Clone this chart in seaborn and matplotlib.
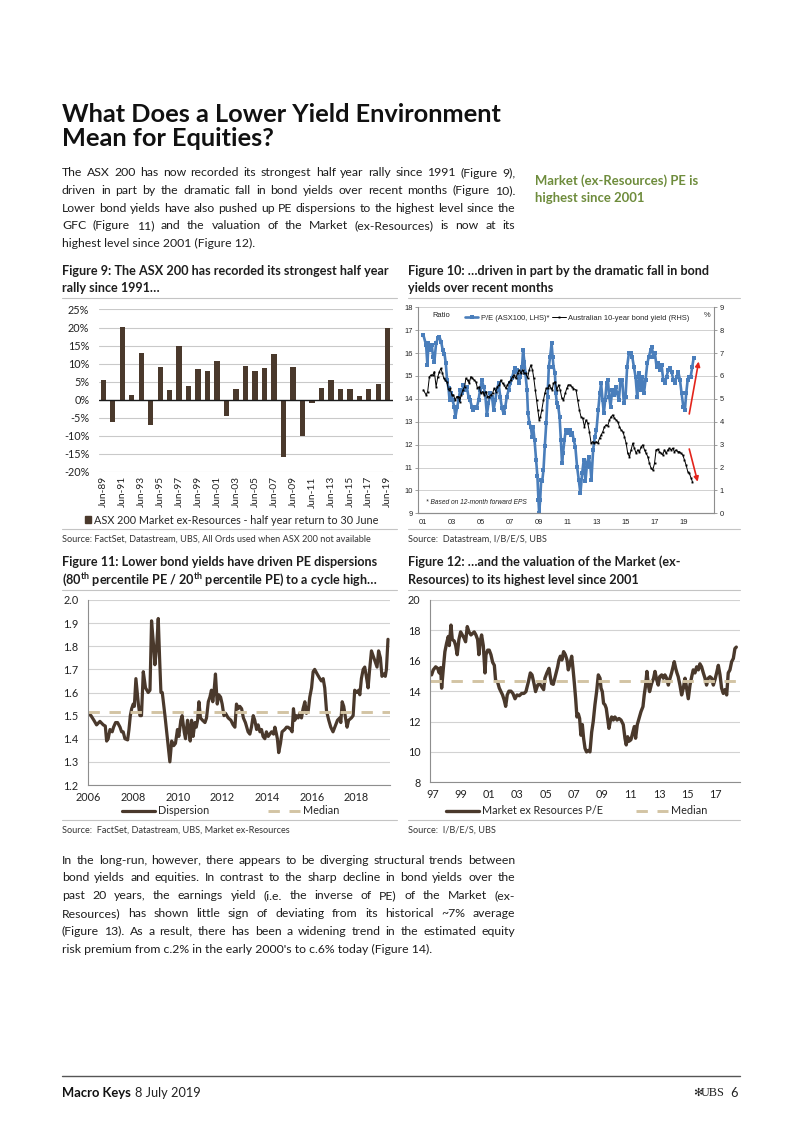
import numpy as np
import pandas as pd
import matplotlib
matplotlib.use("Agg")
import matplotlib.pyplot as plt
import seaborn as sns
from matplotlib import font_manager as fm
from matplotlib.lines import Line2D
from matplotlib.patches import Patch

# ------------------------------------------------------------------ data
fig9_labels = [f"Jun-{y % 100:02d}" for y in range(1989, 2020)]
fig9_returns = [5.6, -6.2, 20.2, 1.2, 13.0, -6.9, 9.0, 2.8, 14.8, 3.9, 8.6, 7.9,
                10.6, -4.5, 2.9, 9.3, 7.9, 8.8, 12.8, -15.8, 9.1, -10.0, -0.9,
                3.3, 5.4, 3.0, 3.1, 1.0, 3.1, 4.3, 20.0]

pe_years = [2001.02, 2001.21, 2001.30, 2001.37, 2001.48, 2001.60, 2001.69, 2001.78, 2001.90,
            2002.02, 2002.13, 2002.25, 2002.36, 2002.48, 2002.57, 2002.66, 2002.76, 2002.83,
            2002.92, 2003.04, 2003.15, 2003.24, 2003.36, 2003.45, 2003.56, 2003.68, 2003.79,
            2003.91, 2004.02, 2004.14, 2004.25, 2004.37, 2004.48, 2004.60, 2004.71, 2004.83,
            2004.94, 2005.06, 2005.18, 2005.29, 2005.41, 2005.52, 2005.64, 2005.76, 2005.87,
            2005.99, 2006.10, 2006.22, 2006.33, 2006.45, 2006.56, 2006.68, 2006.79, 2006.91,
            2007.03, 2007.14, 2007.26, 2007.37, 2007.49, 2007.61, 2007.72, 2007.84, 2007.91,
            2008.00, 2008.07, 2008.18, 2008.25, 2008.35, 2008.44, 2008.53, 2008.60, 2008.70,
            2008.81, 2008.90, 2008.97, 2009.02, 2009.09, 2009.16, 2009.23, 2009.32, 2009.41,
            2009.51, 2009.60, 2009.69, 2009.78, 2009.88, 2009.95, 2010.01, 2010.11, 2010.17,
            2010.24, 2010.34, 2010.43, 2010.52, 2010.60, 2010.67, 2010.77, 2010.86, 2010.95,
            2011.04, 2011.14, 2011.23, 2011.32, 2011.41, 2011.52, 2011.64, 2011.76, 2011.87,
            2011.99, 2012.10, 2012.22, 2012.33, 2012.45, 2012.56, 2012.63, 2012.75, 2012.87,
            2012.98, 2013.10, 2013.21, 2013.30, 2013.40, 2013.49, 2013.58, 2013.68, 2013.77,
            2013.86, 2013.95, 2014.07, 2014.18, 2014.30, 2014.41, 2014.53, 2014.64, 2014.76,
            2014.87, 2014.99, 2015.10, 2015.22, 2015.36, 2015.45, 2015.56, 2015.68, 2015.79,
            2015.86, 2015.95, 2016.05, 2016.14, 2016.26, 2016.37, 2016.49, 2016.60, 2016.72,
            2016.81, 2016.90, 2017.02, 2017.13, 2017.25, 2017.36, 2017.48, 2017.59, 2017.71,
            2017.82, 2017.94, 2018.06, 2018.17, 2018.29, 2018.40, 2018.52, 2018.63, 2018.75,
            2018.86, 2018.98, 2019.09, 2019.18, 2019.28, 2019.37, 2019.49, 2019.60, 2019.69]
pe_values = [16.79, 16.35, 15.48, 16.42, 16.13, 16.35, 15.84, 15.62, 16.42,
             16.64, 16.71, 16.49, 16.13, 15.98, 15.55, 14.82, 14.46, 13.95,
             14.24, 13.95, 13.66, 13.22, 13.66, 13.95, 14.39, 14.24, 14.61,
             14.39, 14.53, 14.10, 13.95, 13.66, 13.51, 13.66, 13.59, 13.95,
             14.39, 14.82, 14.53, 14.24, 13.30, 13.81, 14.24, 14.10, 13.51,
             13.95, 14.39, 14.68, 14.10, 13.59, 13.37, 13.66, 14.10, 14.39,
             14.68, 14.90, 15.19, 15.33, 15.26, 14.68, 14.97, 15.41, 16.13,
             15.62, 15.12, 14.39, 13.37, 12.93, 12.79, 12.35, 12.79, 12.21,
             11.33, 10.61, 9.59, 9.00, 9.59, 10.46, 10.39, 10.90, 11.92,
             12.93, 14.10, 15.41, 15.84, 16.42, 15.84, 15.41, 15.12, 14.24,
             13.81, 13.66, 13.22, 12.21, 11.19, 11.63, 12.21, 12.64, 12.50,
             12.57, 12.64, 12.42, 12.50, 12.20, 11.91, 11.03, 10.45, 9.87,
             10.74, 11.33, 10.39, 11.19, 11.48, 11.03, 10.45, 11.77, 12.35,
             12.64, 13.51, 14.24, 14.68, 13.95, 13.37, 13.95, 14.68, 14.82,
             14.10, 13.66, 14.39, 14.17, 14.53, 14.24, 13.95, 14.82, 14.82,
             13.81, 14.10, 15.41, 15.99, 15.99, 15.84, 15.41, 14.97, 14.10,
             14.68, 15.12, 14.39, 14.97, 14.24, 14.82, 15.55, 15.84, 16.13,
             16.28, 15.84, 15.99, 15.41, 15.55, 15.26, 15.48, 14.82, 14.68,
             14.97, 15.26, 15.33, 15.19, 14.82, 14.68, 14.97, 15.19, 14.82,
             14.24, 13.66, 13.51, 14.24, 14.82, 14.97, 14.97, 15.41, 15.77]

bond_years = [2001.02, 2001.21, 2001.32, 2001.44, 2001.55, 2001.67, 2001.78, 2001.90, 2002.02,
              2002.13, 2002.23, 2002.34, 2002.43, 2002.52, 2002.64, 2002.76, 2002.87, 2002.99,
              2003.10, 2003.22, 2003.33, 2003.45, 2003.52, 2003.64, 2003.75, 2003.87, 2003.96,
              2004.07, 2004.19, 2004.30, 2004.41, 2004.53, 2004.65, 2004.76, 2004.88, 2004.99,
              2005.11, 2005.22, 2005.34, 2005.45, 2005.57, 2005.68, 2005.80, 2005.91, 2006.03,
              2006.14, 2006.26, 2006.37, 2006.49, 2006.60, 2006.72, 2006.83, 2006.95, 2007.06,
              2007.18, 2007.29, 2007.41, 2007.53, 2007.64, 2007.76, 2007.87, 2007.99, 2008.10,
              2008.22, 2008.33, 2008.45, 2008.56, 2008.65, 2008.75, 2008.84, 2008.93, 2009.02,
              2009.11, 2009.20, 2009.32, 2009.41, 2009.51, 2009.62, 2009.73, 2009.83, 2009.92,
              2010.01, 2010.13, 2010.24, 2010.36, 2010.47, 2010.59, 2010.70, 2010.82, 2010.93,
              2011.04, 2011.16, 2011.27, 2011.39, 2011.57, 2011.68, 2011.80, 2011.91, 2012.03,
              2012.15, 2012.26, 2012.38, 2012.49, 2012.61, 2012.72, 2012.84, 2012.96, 2013.07,
              2013.19, 2013.30, 2013.42, 2013.53, 2013.65, 2013.76, 2013.88, 2013.99, 2014.11,
              2014.22, 2014.34, 2014.45, 2014.57, 2014.68, 2014.80, 2014.91, 2015.03, 2015.14,
              2015.26, 2015.37, 2015.49, 2015.60, 2015.72, 2015.83, 2015.95, 2016.07, 2016.18,
              2016.30, 2016.41, 2016.53, 2016.64, 2016.76, 2016.87, 2016.99, 2017.10, 2017.22,
              2017.33, 2017.45, 2017.56, 2017.68, 2017.79, 2017.91, 2018.02, 2018.14, 2018.25,
              2018.37, 2018.48, 2018.60, 2018.71, 2018.83, 2018.94, 2019.06, 2019.17, 2019.29,
              2019.40, 2019.52, 2019.61]
bond_values = [5.39, 5.17, 5.32, 5.97, 6.04, 6.04, 6.19, 5.53, 5.97,
               6.19, 6.33, 6.12, 5.90, 5.82, 5.75, 5.39, 5.46, 5.17,
               5.17, 4.95, 5.10, 5.10, 4.88, 5.17, 5.39, 5.53, 5.90,
               5.82, 5.68, 5.97, 5.90, 5.82, 5.75, 5.46, 5.53, 5.24,
               5.32, 5.17, 5.32, 5.10, 5.10, 5.17, 5.24, 5.46, 5.32,
               5.53, 5.61, 5.82, 5.68, 5.61, 5.46, 5.61, 5.75, 5.82,
               5.97, 6.04, 5.90, 6.12, 6.26, 6.12, 6.26, 6.12, 6.12,
               5.90, 6.26, 6.48, 6.26, 5.90, 5.39, 4.95, 4.51, 4.08,
               4.22, 4.51, 4.95, 5.24, 5.46, 5.46, 5.61, 5.46, 5.39,
               5.68, 5.75, 5.39, 5.61, 5.39, 5.03, 4.95, 5.24, 5.46,
               5.61, 5.61, 5.53, 5.45, 5.39, 4.95, 4.51, 4.22, 4.15,
               3.78, 4.08, 3.93, 3.57, 3.06, 3.13, 3.06, 3.13, 3.06,
               3.28, 3.42, 3.57, 3.78, 3.86, 3.82, 4.08, 4.22, 4.30,
               4.15, 4.08, 4.00, 3.78, 3.64, 3.57, 3.35, 3.06, 2.62,
               2.47, 2.77, 3.06, 2.84, 2.62, 2.77, 2.69, 2.91, 2.99,
               2.77, 2.62, 2.47, 2.18, 1.96, 1.89, 2.18, 2.77, 2.80,
               2.69, 2.62, 2.55, 2.77, 2.62, 2.77, 2.84, 2.77, 2.84,
               2.69, 2.77, 2.69, 2.69, 2.62, 2.55, 2.33, 2.11, 1.82,
               1.74, 1.53, 1.38]

pe_arrow = [(2019.39, 13.34), (2020.04, 15.63)]      # LHS units
yield_arrow = [(2019.39, 2.81), (2019.97, 1.38)]     # RHS units

disp_years = [2006.00, 2006.12, 2006.25, 2006.37, 2006.52, 2006.67, 2006.76, 2006.82, 2006.89,
              2006.97, 2007.07, 2007.13, 2007.22, 2007.31, 2007.42, 2007.49, 2007.56, 2007.64,
              2007.76, 2007.82, 2007.88, 2007.94, 2008.01, 2008.06, 2008.13, 2008.24, 2008.31,
              2008.38, 2008.46, 2008.56, 2008.68, 2008.76, 2008.83, 2008.94, 2008.98, 2009.06,
              2009.13, 2009.19, 2009.25, 2009.31, 2009.43, 2009.52, 2009.58, 2009.65, 2009.73,
              2009.82, 2009.90, 2009.99, 2010.05, 2010.14, 2010.20, 2010.29, 2010.35, 2010.44,
              2010.50, 2010.56, 2010.62, 2010.69, 2010.77, 2010.83, 2010.89, 2010.95, 2011.02,
              2011.11, 2011.22, 2011.29, 2011.37, 2011.44, 2011.51, 2011.57, 2011.63, 2011.69,
              2011.77, 2011.84, 2011.92, 2011.99, 2012.07, 2012.14, 2012.26, 2012.38, 2012.48,
              2012.56, 2012.63, 2012.71, 2012.78, 2012.86, 2012.94, 2013.03, 2013.15, 2013.23,
              2013.30, 2013.38, 2013.45, 2013.53, 2013.60, 2013.68, 2013.75, 2013.82, 2013.90,
              2013.97, 2014.05, 2014.12, 2014.20, 2014.29, 2014.35, 2014.42, 2014.46, 2014.52,
              2014.60, 2014.67, 2014.79, 2014.87, 2014.94, 2015.06, 2015.12, 2015.18, 2015.24,
              2015.31, 2015.39, 2015.46, 2015.54, 2015.61, 2015.69, 2015.76, 2015.84, 2015.91,
              2015.99, 2016.06, 2016.13, 2016.24, 2016.36, 2016.43, 2016.51, 2016.58, 2016.66,
              2016.76, 2016.85, 2016.95, 2017.03, 2017.15, 2017.25, 2017.30, 2017.36, 2017.43,
              2017.51, 2017.58, 2017.65, 2017.77, 2017.85, 2017.92, 2018.03, 2018.10, 2018.15,
              2018.22, 2018.30, 2018.37, 2018.44, 2018.52, 2018.58, 2018.67, 2018.74, 2018.85,
              2018.92, 2018.99, 2019.07, 2019.14, 2019.22, 2019.29, 2019.34, 2019.41]
disp_values = [1.51, 1.50, 1.48, 1.46, 1.475, 1.46, 1.455, 1.39, 1.40,
               1.44, 1.43, 1.45, 1.47, 1.47, 1.45, 1.43, 1.43, 1.40,
               1.395, 1.44, 1.50, 1.53, 1.55, 1.54, 1.66, 1.55, 1.50,
               1.50, 1.69, 1.62, 1.60, 1.61, 1.91, 1.78, 1.72, 1.80,
               1.92, 1.75, 1.60, 1.60, 1.50, 1.42, 1.37, 1.30, 1.39,
               1.37, 1.38, 1.44, 1.41, 1.48, 1.50, 1.43, 1.40, 1.48,
               1.44, 1.39, 1.48, 1.41, 1.47, 1.45, 1.48, 1.56, 1.49,
               1.48, 1.47, 1.49, 1.56, 1.58, 1.61, 1.56, 1.61, 1.68,
               1.55, 1.59, 1.58, 1.55, 1.50, 1.51, 1.49, 1.48, 1.46,
               1.45, 1.55, 1.53, 1.54, 1.53, 1.49, 1.47, 1.43, 1.42,
               1.45, 1.50, 1.48, 1.44, 1.46, 1.43, 1.44, 1.41, 1.40,
               1.43, 1.41, 1.42, 1.43, 1.42, 1.45, 1.42, 1.40, 1.34,
               1.38, 1.43, 1.44, 1.45, 1.45, 1.44, 1.43, 1.53, 1.48,
               1.50, 1.49, 1.51, 1.49, 1.53, 1.56, 1.51, 1.52, 1.58,
               1.62, 1.69, 1.70, 1.68, 1.66, 1.65, 1.66, 1.62, 1.52,
               1.48, 1.45, 1.43, 1.45, 1.48, 1.49, 1.47, 1.56, 1.54,
               1.49, 1.45, 1.48, 1.49, 1.50, 1.61, 1.60, 1.61, 1.59,
               1.66, 1.70, 1.71, 1.67, 1.62, 1.69, 1.78, 1.76, 1.73,
               1.71, 1.78, 1.75, 1.67, 1.68, 1.67, 1.70, 1.83]
disp_median = 1.515

mkt_years = [1996.95, 1997.07, 1997.24, 1997.38, 1997.49, 1997.59, 1997.66, 1997.78, 1997.89,
             1998.01, 1998.13, 1998.20, 1998.32, 1998.41, 1998.55, 1998.65, 1998.76, 1998.88,
             1999.00, 1999.12, 1999.24, 1999.35, 1999.47, 1999.59, 1999.73, 1999.85, 1999.96,
             2000.08, 2000.20, 2000.29, 2000.39, 2000.48, 2000.60, 2000.72, 2000.79, 2000.91,
             2001.02, 2001.14, 2001.26, 2001.38, 2001.47, 2001.61, 2001.73, 2001.85, 2001.96,
             2002.08, 2002.18, 2002.29, 2002.41, 2002.55, 2002.69, 2002.84, 2002.98, 2003.14,
             2003.31, 2003.47, 2003.61, 2003.78, 2003.92, 2004.04, 2004.18, 2004.29, 2004.44,
             2004.58, 2004.72, 2004.86, 2004.95, 2005.09, 2005.24, 2005.33, 2005.42, 2005.54,
             2005.71, 2005.85, 2005.94, 2006.04, 2006.15, 2006.27, 2006.39, 2006.51, 2006.60,
             2006.72, 2006.84, 2006.93, 2007.02, 2007.12, 2007.21, 2007.31, 2007.40, 2007.49,
             2007.59, 2007.68, 2007.78, 2007.89, 2008.01, 2008.13, 2008.25, 2008.36, 2008.48,
             2008.60, 2008.72, 2008.84, 2008.91, 2009.00, 2009.09, 2009.19, 2009.28, 2009.38,
             2009.47, 2009.56, 2009.66, 2009.78, 2009.89, 2010.04, 2010.18, 2010.32, 2010.48,
             2010.60, 2010.69, 2010.79, 2010.88, 2011.02, 2011.16, 2011.26, 2011.35, 2011.47,
             2011.59, 2011.73, 2011.87, 2011.96, 2012.06, 2012.15, 2012.25, 2012.34, 2012.48,
             2012.62, 2012.72, 2012.84, 2012.95, 2013.05, 2013.19, 2013.31, 2013.42, 2013.54,
             2013.66, 2013.78, 2013.89, 2013.99, 2014.08, 2014.18, 2014.27, 2014.36, 2014.48,
             2014.60, 2014.72, 2014.84, 2014.95, 2015.07, 2015.19, 2015.31, 2015.42, 2015.54,
             2015.66, 2015.78, 2015.89, 2016.01, 2016.13, 2016.25, 2016.36, 2016.48, 2016.60,
             2016.72, 2016.84, 2016.95, 2017.07, 2017.19, 2017.31, 2017.42, 2017.54, 2017.66,
             2017.78, 2017.89, 2018.01, 2018.13, 2018.25, 2018.36, 2018.46]
mkt_pe = [15.07, 15.4, 15.6, 15.5, 15.2, 15.55, 14.2, 15.5, 16.6,
          17.15, 17.6, 17.0, 18.35, 17.4, 17.3, 17.0, 16.4, 17.4,
          17.9, 17.7, 17.5, 17.25, 18.25, 17.9, 17.7, 17.8, 17.9,
          17.7, 17.4, 16.4, 17.3, 17.7, 17.0, 15.2, 16.4, 16.7,
          16.7, 16.4, 15.9, 15.7, 14.7, 14.6, 14.2, 13.97, 13.75,
          13.4, 13.0, 13.75, 14.0, 14.0, 13.85, 13.5, 13.75, 13.7,
          13.85, 13.85, 13.97, 14.6, 15.2, 15.07, 14.5, 13.97, 14.4,
          14.5, 14.3, 14.1, 14.85, 15.2, 15.5, 14.95, 14.5, 14.45,
          15.07, 15.6, 16.05, 16.3, 16.05, 16.6, 16.4, 16.05, 15.4,
          15.8, 16.3, 15.5, 14.6, 13.5, 12.3, 12.5, 12.2, 11.1,
          11.8, 10.9, 10.24, 10.0, 10.1, 10.0, 11.3, 12.0, 13.1,
          13.97, 15.07, 14.85, 14.2, 13.97, 13.2, 13.1, 12.87, 12.2,
          11.55, 12.0, 12.3, 12.1, 12.3, 12.1, 12.2, 12.1, 11.8,
          10.9, 10.46, 11.0, 10.7, 10.8, 11.3, 11.67, 10.9, 11.8,
          12.2, 12.65, 12.98, 13.75, 14.4, 15.3, 14.4, 13.97, 14.5,
          14.85, 15.3, 14.75, 14.4, 14.95, 15.07, 14.85, 15.07, 14.85,
          14.4, 14.85, 15.2, 15.6, 15.94, 15.5, 15.2, 14.95, 14.4,
          13.75, 14.2, 14.85, 14.2, 13.5, 14.4, 14.95, 15.4, 15.2,
          15.6, 15.4, 15.8, 15.6, 15.2, 14.85, 14.4, 14.85, 14.95,
          14.85, 14.4, 14.75, 15.2, 15.7, 15.07, 14.2, 13.85, 14.1,
          13.75, 15.2, 15.4, 15.94, 16.15, 16.8, 16.9]
mkt_median = 14.65

title_lines = ["What Does a Lower Yield Environment", "Mean for Equities?"]
para1 = ["The ASX 200 has now recorded its strongest half year rally since 1991 (Figure 9),",
         "driven in part by the dramatic fall in bond yields over recent months (Figure 10).",
         "Lower bond yields have also pushed up PE dispersions to the highest level since the",
         "GFC (Figure 11) and the valuation of the Market (ex-Resources) is now at its",
         "highest level since 2001 (Figure 12)."]
side_note = ["Market (ex-Resources) PE is", "highest since 2001"]
para2 = ["In the long-run, however, there appears to be diverging structural trends between",
         "bond yields and equities. In contrast to the sharp decline in bond yields over the",
         "past 20 years, the earnings yield (i.e. the inverse of PE) of the Market (ex-",
         "Resources) has shown little sign of deviating from its historical ~7% average",
         "(Figure 13). As a result, there has been a widening trend in the estimated equity",
         "risk premium from c.2% in the early 2000's to c.6% today (Figure 14)."]
fig_titles = {
    "f9": ["Figure 9: The ASX 200 has recorded its strongest half year", "rally since 1991\u2026"],
    "f10": ["Figure 10: \u2026driven in part by the dramatic fall in bond", "yields over recent months"],
    "f11": ["Figure 11: Lower bond yields have driven PE dispersions",
            "(80$^{\\mathbf{th}}$ percentile PE / 20$^{\\mathbf{th}}$ percentile PE) to a cycle high\u2026"],
    "f12": ["Figure 12: \u2026and the valuation of the Market (ex-", "Resources) to its highest level since 2001"],
}

# ------------------------------------------------------------------ style
sns.set_theme(style="white")


def has_font(name):
    try:
        fm.findfont(fm.FontProperties(family=name), fallback_to_default=False)
        return True
    except Exception:
        return False


NARROW = "Liberation Sans Narrow" if has_font("Liberation Sans Narrow") else "Lato"
HUMAN = "Lato"
ARIAL = "Liberation Sans"
plt.rcParams["font.family"] = [HUMAN, "DejaVu Sans"]
plt.rcParams["mathtext.fontset"] = "custom"
plt.rcParams["mathtext.rm"] = NARROW
plt.rcParams["mathtext.bf"] = f"{NARROW}:bold"

BROWN = "#4a392c"
TAN = "#d3c4a4"
BLUE = "#4a7ebb"
GRID = "#c9c9c9"
SPINE = "#8e8e8e"
TXT = "#1e1e1e"
GREEN = "#6e8c3c"

W, H = 802, 1133
fig = plt.figure(figsize=(W / 100, H / 100), dpi=100)
fig.patch.set_facecolor("white")
R = fig.canvas.get_renderer()


def fx(x):
    return x / W


def fy(y):
    return 1 - y / H


def put(x, y, s, size, family=NARROW, weight="normal", color=TXT, ha="left",
        va="center_baseline", style="normal"):
    return fig.text(fx(x), fy(y), s, fontsize=size, family=family, weight=weight,
                    color=color, ha=ha, va=va, style=style)


def width_of(s, size, family=NARROW, weight="normal"):
    t = fig.text(0, 0, s, fontsize=size, family=family, weight=weight)
    w = t.get_window_extent(renderer=R).width
    t.remove()
    return w


def fit(s, target, family=NARROW, weight="normal"):
    return 10.0 * target / width_of(s, 10.0, family, weight)


def justify(x0, x1, y, line, size, family=NARROW, color=TXT):
    words = line.split(" ")
    ts = [put(0, y, w, size, family, color=color) for w in words]
    ws = [t.get_window_extent(renderer=R).width for t in ts]
    gap = (x1 - x0 - sum(ws)) / (len(words) - 1)
    x = x0
    for t, w in zip(ts, ws):
        t.set_x(fx(x))
        x += w + gap


def hline(y, x0, x1, color="#c4c4c4", lw=0.8):
    fig.add_artist(Line2D([fx(x0), fx(x1)], [fy(y), fy(y)], color=color, lw=lw))


def ax_rect(l, t, r, b):
    return fig.add_axes([l / W, 1 - b / H, (r - l) / W, (b - t) / H])


# ------------------------------------------------------------------ page text
ts = fit(title_lines[0], 441, HUMAN, "bold")
put(62, 112, title_lines[0], ts, HUMAN, "bold", color="#111111")
put(62, 136, title_lines[1], ts, HUMAN, "bold", color="#111111")

bs = min(fit(l, 453) for l in para1[:-1] + para2[:-1]) * 0.995
for i, line in enumerate(para1):
    yy = 172 + i * 17.6
    if i < len(para1) - 1:
        justify(62, 515, yy, line, bs)
    else:
        put(62, yy, line, bs)
for i, line in enumerate(para2):
    yy = 859 + i * 17.8
    if i < len(para2) - 1:
        justify(62, 515, yy, line, bs)
    else:
        put(62, yy, line, bs)

gs = fit(side_note[0], 163, NARROW, "bold")
put(535, 180, side_note[0], gs, NARROW, "bold", color=GREEN)
put(535, 197, side_note[1], gs, NARROW, "bold", color=GREEN)

fs = min(fit(fig_titles["f9"][0], 328, NARROW, "bold"),
         fit(fig_titles["f10"][0], 312, NARROW, "bold"),
         fit(fig_titles["f11"][0], 328, NARROW, "bold"),
         fit(fig_titles["f11"][1], 330, NARROW, "bold"))
for key, x0, y0 in (("f9", 62, 270), ("f10", 408, 270), ("f11", 62, 561), ("f12", 408, 561)):
    put(x0, y0, fig_titles[key][0], fs, weight="bold")
    put(x0, y0 + 17.5, fig_titles[key][1], fs, weight="bold")

ss = fit("Source: FactSet, Datastream, UBS, All Ords used when ASX 200 not available", 308)
put(62, 538, "Source: FactSet, Datastream, UBS, All Ords used when ASX 200 not available", ss, color="#333333")
put(408, 538, "Source:  Datastream, I/B/E/S, UBS", ss, color="#333333")
put(62, 829, "Source:  FactSet, Datastream, UBS, Market ex-Resources", ss, color="#333333")
put(408, 829, "Source:  I/B/E/S, UBS", ss, color="#333333")

for y in (298, 529, 590, 820):
    hline(y, 62, 397)
    hline(y, 408, 740)

hline(1076, 62, 740, color="#555555", lw=1.0)
put(62, 1092, "Macro Keys", 9.4, NARROW, "bold", color="#111111")
put(135, 1092, "8 July 2019", 9.2, NARROW, color="#222222")
put(738, 1092, "6", 9.2, NARROW, color="#222222", ha="right")
put(725, 1092, "UBS", 8.8, "Liberation Serif", color="#222222", ha="right")
put(702, 1092, "\u273b", 8.0, "DejaVu Sans", color="#222222", ha="right")

# ------------------------------------------------------------------ Figure 9
ax9 = ax_rect(99, 309.5, 393, 472)
df9 = pd.DataFrame({"period": fig9_labels, "ret": fig9_returns})
sns.barplot(data=df9, x="period", y="ret", color=BROWN, saturation=1, width=0.56,
            linewidth=0, ax=ax9)
ax9.set_ylim(-20, 25)
ax9.set_xlim(-0.45, 30.55)
ax9.set_yticks(range(-20, 26, 5))
ax9.set_yticklabels([f"{v}%" for v in range(-20, 26, 5)])
ax9.set_xticks(range(len(fig9_labels)))
ax9.set_xticklabels([l if i % 2 == 0 else "" for i, l in enumerate(fig9_labels)], rotation=90)
ax9.yaxis.grid(True, color=GRID, lw=0.8)
ax9.set_axisbelow(True)
ax9.axhline(0, color="#1a1a1a", lw=1.0)
for s in ax9.spines.values():
    s.set_visible(False)
ax9.tick_params(axis="both", length=0, labelsize=7.8, colors="#222222")
ax9.tick_params(axis="x", labelsize=7.3, pad=3)
ax9.tick_params(axis="y", pad=7)
ax9.set(xlabel="", ylabel="")
ax9.legend(handles=[Patch(color=BROWN)],
           labels=["ASX 200 Market ex-Resources - half year return to 30 June"],
           loc="center", bbox_to_anchor=(fx(232), fy(520)), bbox_transform=fig.transFigure,
           frameon=False, fontsize=7.8, handlelength=0.55, handleheight=0.55,
           handletextpad=0.3, borderpad=0, borderaxespad=0)

# ------------------------------------------------------------------ Figure 10
ax10 = ax_rect(418, 307.3, 714, 513.3)
sns.lineplot(x=pe_years, y=pe_values, ax=ax10, color=BLUE, lw=1.9, marker="s",
             markersize=2.2, markeredgewidth=0, sort=False, estimator=None)
ax10r = ax10.twinx()
sns.lineplot(x=bond_years, y=bond_values, ax=ax10r, color="black", lw=0.7, marker="s",
             markersize=1.4, markeredgewidth=0, sort=False, estimator=None)
ax10.set_ylim(9, 18)
ax10r.set_ylim(0, 9)
ax10.set_xlim(2000.65, 2021.1)
ax10.set_yticks(range(9, 19))
ax10r.set_yticks(range(0, 10))
ax10.set_xticks(range(2001, 2020, 2))
ax10.set_xticklabels([f"{y % 100:02d}" for y in range(2001, 2020, 2)])
ax10.yaxis.grid(True, color=GRID, lw=0.6)
ax10.set_axisbelow(True)
for a in (ax10, ax10r):
    a.spines["top"].set_visible(False)
    for s in ("left", "right", "bottom"):
        a.spines[s].set_color(SPINE)
        a.spines[s].set_linewidth(0.8)
    a.tick_params(labelsize=5.4, length=2, width=0.6, color=SPINE, pad=2,
                  labelcolor="#222222", labelfontfamily=ARIAL)
    a.set(xlabel="", ylabel="")
ax10.spines["right"].set_visible(False)
ax10r.spines["left"].set_visible(False)
ax10r.annotate("", xy=yield_arrow[1], xytext=yield_arrow[0],
               arrowprops=dict(arrowstyle="-|>", color="#e3241b", lw=1.2, mutation_scale=7,
                               shrinkA=0, shrinkB=0))
ax10r.annotate("", xy=pe_arrow[1], xytext=pe_arrow[0], xycoords=ax10.transData,
               textcoords=ax10.transData,
               arrowprops=dict(arrowstyle="-|>", color="#e3241b", lw=1.2, mutation_scale=7,
                               shrinkA=0, shrinkB=0))
ax10.text(0.05, 0.958, "Ratio", transform=ax10.transAxes, fontsize=5.4, family=ARIAL,
          va="center", color="#222222")
ax10.text(0.975, 0.958, "%", transform=ax10.transAxes, fontsize=5.4, family=ARIAL,
          va="center", ha="center", color="#222222")
ax10.text(0.028, 0.05, "* Based on 12-month forward EPS", transform=ax10.transAxes,
          fontsize=4.8, family=ARIAL, style="italic", va="center", color="#222222")
ax10r.legend(handles=[ax10.lines[0], ax10r.lines[0]],
             labels=["P/E (ASX100, LHS)*", "Australian 10-year bond yield (RHS)"],
             loc="center", bbox_to_anchor=(fx(577), fy(318)), bbox_transform=fig.transFigure,
             ncol=2, frameon=False, prop={"family": ARIAL, "size": 5.4},
             handlelength=1.8, handletextpad=0.3, columnspacing=0.4, borderpad=0)


# ------------------------------------------------------------------ Figure 11
def style_line_axes(a):
    a.yaxis.grid(True, color="#d2d2d2", lw=0.8)
    a.set_axisbelow(True)
    for s in ("top", "right"):
        a.spines[s].set_visible(False)
    for s in ("left", "bottom"):
        a.spines[s].set_color(SPINE)
        a.spines[s].set_linewidth(0.8)
    a.tick_params(labelsize=7.8, length=3, width=0.7, color=SPINE, direction="out",
                  labelcolor="#222222", pad=2)
    a.tick_params(axis="y", pad=4)
    a.set(xlabel="", ylabel="")


ax11 = ax_rect(88.3, 600, 390, 785)
sns.lineplot(x=disp_years, y=disp_values, ax=ax11, color=BROWN, lw=2.3, sort=False,
             estimator=None)
med11 = ax11.axhline(disp_median, color=TAN, lw=2.1, ls=(0, (3.9, 3.3)))
ax11.set_ylim(1.2, 2.0)
ax11.set_xlim(2006, 2019.5)
ax11.set_yticks(np.arange(1.2, 2.01, 0.1))
ax11.set_yticklabels([f"{v:.1f}" for v in np.arange(1.2, 2.01, 0.1)])
ax11.set_xticks(range(2006, 2019, 2))
style_line_axes(ax11)
ax11.legend(handles=[ax11.lines[0], med11], labels=["Dispersion", "Median"],
            loc="center", bbox_to_anchor=(fx(231), fy(811)), bbox_transform=fig.transFigure,
            ncol=2, frameon=False, fontsize=7.8, handlelength=3.0, handletextpad=0.3,
            columnspacing=5.4, borderpad=0)

# ------------------------------------------------------------------ Figure 12
ax12 = ax_rect(430.3, 600, 740, 782.3)
sns.lineplot(x=mkt_years, y=mkt_pe, ax=ax12, color=BROWN, lw=2.4, sort=False,
             estimator=None)
med12 = ax12.axhline(mkt_median, color=TAN, lw=2.1, ls=(0, (3.9, 3.3)))
ax12.set_ylim(8, 20)
ax12.set_xlim(1996.86, 2018.72)
ax12.set_yticks(range(8, 21, 2))
ax12.set_xticks(range(1997, 2018, 2))
ax12.set_xticklabels([f"{y % 100:02d}" for y in range(1997, 2018, 2)])
style_line_axes(ax12)
ax12.legend(handles=[ax12.lines[0], med12], labels=["Market ex Resources P/E", "Median"],
            loc="center", bbox_to_anchor=(fx(577), fy(811)), bbox_transform=fig.transFigure,
            ncol=2, frameon=False, fontsize=7.8, handlelength=3.0, handletextpad=0.3,
            columnspacing=3.0, borderpad=0)

fig.savefig("out.png", dpi=100, facecolor="white")
